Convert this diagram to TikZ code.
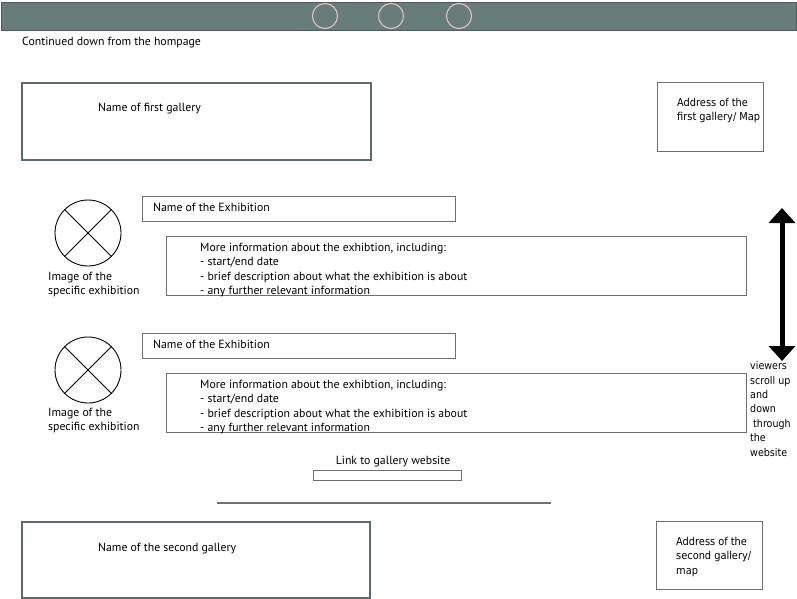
\documentclass[tikz,border=0pt]{standalone}
\usepackage{fontspec}
\setmainfont{PT Sans}
\newfontfamily\tahfont{DejaVu Sans Condensed}
\usetikzlibrary{arrows.meta}
\definecolor{barfill}{RGB}{104,125,122}
\definecolor{barline}{RGB}{80,90,90}
\definecolor{galline}{RGB}{90,108,108}
\definecolor{boxline}{RGB}{110,110,110}
\definecolor{pinkline}{RGB}{232,200,200}
\begin{document}
\begin{tikzpicture}[x=1pt,y=-1pt,
  txt/.style={inner sep=0pt, anchor=base west, font=\fontsize{11.8}{14.5}\selectfont, align=left},
  tah/.style={inner sep=0pt, anchor=base west, font=\tahfont\fontsize{10.9}{14.7}\selectfont, align=left},
  galbox/.style={draw=galline, line width=1.6pt, anchor=north west, inner sep=0pt},
  plainbox/.style={draw=boxline, line width=1.3pt, anchor=north west, inner sep=0pt},
  imgcirc/.style={draw=black, line width=0.9pt, circle, minimum size=66pt, inner sep=0pt}]
\useasboundingbox (0,0) rectangle (797,599);
% top bar
\node[draw=barline, fill=barfill, line width=1pt, anchor=north west, minimum width=795pt, minimum height=28pt, inner sep=0pt] (bar) at (1,2) {};
\foreach \cx/\nm in {325/c1,391/c2,459/c3}
  \node[draw=pinkline, line width=1pt, circle, minimum size=25pt, inner sep=0pt] (\nm) at (\cx,16) {};
\node[txt] (cont) at (22,46) {Continued down from the hompage};
% first gallery
\node[galbox, minimum width=349pt, minimum height=77pt] (g1) at (21,82) {};
\node[txt] (g1t) at (98,112) {Name of first gallery};
\node[plainbox, minimum width=106pt, minimum height=69pt] (a1) at (657,82) {};
\node[tah] (a1t) at (677,121) {Address of the\\first gallery/ Map};
% exhibition 1
\node[plainbox, minimum width=313pt, minimum height=25pt] (e1) at (142,196) {};
\node[txt] (e1t) at (153,211) {Name of the Exhibition};
\node[imgcirc] (i1) at (88,233) {};
\draw[line width=0.9pt] (i1.north west) -- (i1.south east) (i1.north east) -- (i1.south west);
\node[txt] (i1t) at (48,294.5) {Image of the\\specific exhibition};
\node[plainbox, minimum width=580pt, minimum height=59pt] (m1) at (166,236) {};
\node[txt] (m1t) at (200,294.5) {More information about the exhibtion, including:\\- start/end date\\- brief description about what the exhibition is about\\- any further relevant information};
% exhibition 2
\node[plainbox, minimum width=313pt, minimum height=25pt] (e2) at (142,333) {};
\node[txt] (e2t) at (153,348) {Name of the Exhibition};
\node[imgcirc] (i2) at (88,370) {};
\draw[line width=0.9pt] (i2.north west) -- (i2.south east) (i2.north east) -- (i2.south west);
\node[txt] (i2t) at (48,430.5) {Image of the\\specific exhibition};
\node[plainbox, minimum width=580pt, minimum height=59pt] (m2) at (166,373) {};
\node[txt] (m2t) at (200,431.5) {More information about the exhibtion, including:\\- start/end date\\- brief description about what the exhibition is about\\- any further relevant information};
% link
\node[txt, anchor=base] (lt) at (393,464) {Link to gallery website};
\node[draw=boxline, line width=1.1pt, anchor=north west, minimum width=148pt, minimum height=10pt, inner sep=0pt] (lb) at (313,470) {};
% separator
\coordinate (s1) at (217,503);
\coordinate (s2) at (551,503);
\draw[boxline, line width=1.8pt] (s1) -- (s2);
% second gallery
\node[galbox, minimum width=348pt, minimum height=76pt] (g2) at (21,521) {};
\node[txt] (g2t) at (98,551) {Name of the second gallery};
\node[plainbox, minimum width=106pt, minimum height=68pt] (a2) at (656,521) {};
\node[tah] (a2t) at (676,574.5) {Address of the\\second gallery/\\map};
% scroll arrow
\coordinate (ar1) at (782,208);
\coordinate (ar2) at (782,361);
\draw[line width=5pt, {Triangle[width=26pt,length=15pt]}-{Triangle[width=26pt,length=15pt]}] (ar1) -- (ar2);
\node[tah, font=\tahfont\fontsize{10.6}{14.4}\selectfont] (vt) at (750,456) {viewers\\scroll up\\and\\down\\\ through\\the\\website};
\end{tikzpicture}
\end{document}
